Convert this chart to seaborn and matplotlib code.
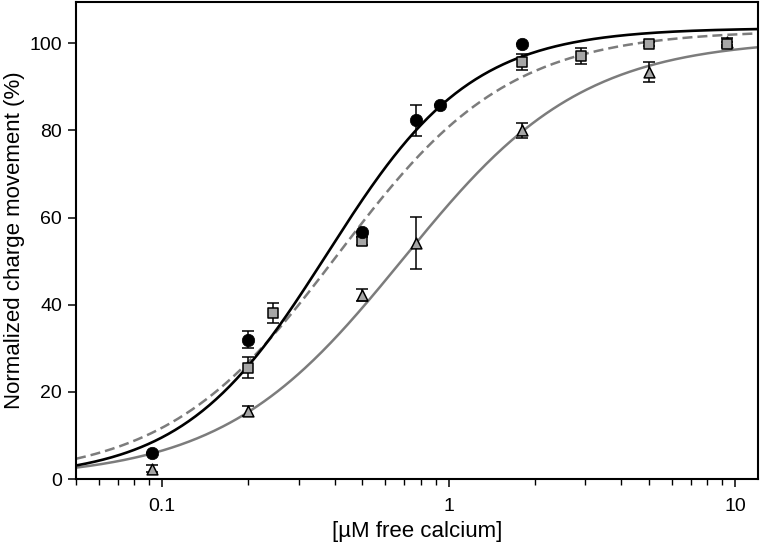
import numpy as np
import matplotlib
matplotlib.use("Agg")
from matplotlib import pyplot as plt
import seaborn as sns

# black circles
circle_x = [0.092, 0.199, 0.498, 0.767, 0.93, 1.80]
circle_y = [6.0, 32.0, 56.7, 82.3, 85.8, 99.8]
circle_err = [0.0, 1.9, 0.0, 3.6, 0.0, 0.0]

# grey squares
square_x = [0.199, 0.244, 0.498, 1.80, 2.90, 5.01, 9.4]
square_y = [25.5, 38.1, 54.6, 95.7, 97.1, 99.8, 99.7]
square_err = [2.4, 2.4, 1.0, 1.9, 1.8, 0.5, 0.6]

# grey triangles
tri_x = [0.092, 0.199, 0.498, 0.772, 1.80, 5.01, 9.4]
tri_y = [2.4, 15.6, 42.2, 54.2, 80.0, 93.4, 100.3]
tri_err = [0.8, 1.2, 1.4, 6.0, 1.7, 2.2, 0.8]

# Hill fits: top, EC50, Hill coefficient
fit_circle = [103.5, 0.377, 1.72]
fit_square = [103.0, 0.41, 1.45]
fit_tri = [101.0, 0.693, 1.38]

x_ticks = [0.1, 1, 10]
x_ticklabels = ['0.1', '1', '10']
y_ticks = [0, 20, 40, 60, 80, 100]


def hill(x, p):
    top, k, n = p
    return top * x**n / (x**n + k**n)


sns.set_theme(style='ticks')
plt.rcParams['font.family'] = ['Liberation Sans', 'DejaVu Sans']
plt.rcParams.update({'text.color': 'black', 'axes.labelcolor': 'black',
                     'xtick.color': 'black', 'ytick.color': 'black'})

fig, ax = plt.subplots(figsize=(7.6, 5.5), dpi=100)
fig.subplots_adjust(left=0.1, right=0.997, bottom=0.129, top=0.996)
ax.set_xscale('log')

xs = np.geomspace(0.05, 12, 400)
sns.lineplot(x=xs, y=hill(xs, fit_tri), color='#7c7c7c', linewidth=1.8, ax=ax)
sns.lineplot(x=xs, y=hill(xs, fit_square), color='#7c7c7c', linewidth=1.8, ax=ax)
ax.lines[-1].set_dashes([4, 2])
sns.lineplot(x=xs, y=hill(xs, fit_circle), color='black', linewidth=1.9, ax=ax)

for xv, yv, ev in [(tri_x, tri_y, tri_err), (square_x, square_y, square_err),
                   (circle_x, circle_y, circle_err)]:
    ax.errorbar(xv, yv, yerr=ev, fmt='none', ecolor='black', elinewidth=1.1,
                capsize=4.5, capthick=1.1, zorder=3)

sns.scatterplot(x=tri_x, y=tri_y, marker='^', s=60, color='#a6a6a6',
                edgecolor='black', linewidth=1.1, zorder=4, ax=ax)
sns.scatterplot(x=square_x, y=square_y, marker='s', s=42, color='#a6a6a6',
                edgecolor='black', linewidth=1.1, zorder=5, ax=ax)
sns.scatterplot(x=circle_x, y=circle_y, marker='o', s=80, color='black',
                edgecolor='black', linewidth=0.5, zorder=6, ax=ax)

ax.set_xlim(0.05, 12)
ax.set_ylim(0, 109.4)
ax.set_xticks(x_ticks)
ax.set_xticklabels(x_ticklabels)
ax.set_yticks(y_ticks)
ax.tick_params(axis='x', which='major', length=6, width=1.1, pad=8, labelsize=14)
ax.tick_params(axis='x', which='minor', length=4, width=1.0)
ax.tick_params(axis='y', length=6, width=1.1, pad=4, labelsize=14)
for s in ax.spines.values():
    s.set_linewidth(1.5)
    s.set_color('black')

ax.set_xlabel('[µM free calcium]', fontsize=16, labelpad=4)
ax.set_ylabel('Normalized charge movement (%)', fontsize=16, labelpad=3)

fig.savefig('out.png', dpi=100)
